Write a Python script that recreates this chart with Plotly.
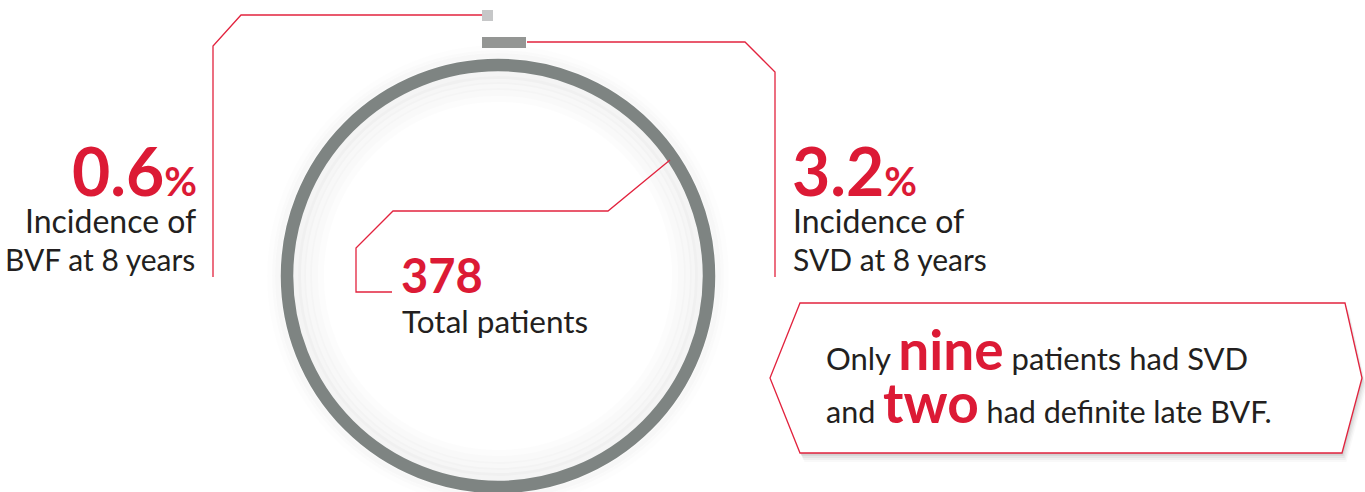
import plotly.graph_objects as go

# ---- data ----
stat_values = ["0.6", "3.2"]
stat_unit = "%"
stat_labels_left = ["Incidence of", "BVF at 8 years"]
stat_labels_right = ["Incidence of", "SVD at 8 years"]
total_value = "378"
total_label = "Total patients"
callout_line1 = ["Only", "nine", "patients had SVD"]
callout_line2 = ["and", "two", "had definite late BVF."]
marker_names = ["BVF", "SVD"]
marker_lengths = [11, 44]          # drawn marker lengths (px units of the canvas axes)

W, H = 1365, 492
RED_LINE = "#e2233e"
RED_TEXT = "#dc1a35"
DARK = "#231f20"
RING = "#7e8482"
FONT = "Lato"

fig = go.Figure()

# marker bars at the top (light square + darker bar)
fig.add_trace(go.Bar(
    x=marker_lengths, y=[15.5, 42], base=[482, 482], orientation="h",
    width=[10.5, 11], marker=dict(color=["#c6c7c8", "#949694"], line=dict(width=0)),
    hoverinfo="skip", showlegend=False))

shapes = []
# circle shading (soft glow inside / outside ring)
cx, cy, r = 498, 276, 211
for k, a in [(30, 0.010), (24, 0.012), (18, 0.015), (12, 0.02), (7, 0.025)]:
    rr = r - k
    shapes.append(dict(type="circle", xref="x", yref="y", x0=cx - rr, x1=cx + rr, y0=cy - rr, y1=cy + rr,
                       line=dict(color=f"rgba(0,0,0,{a})", width=14), layer="below"))
for k, a in [(16, 0.008), (11, 0.012), (8, 0.018)]:
    rr = r + k
    shapes.append(dict(type="circle", xref="x", yref="y", x0=cx - rr, x1=cx + rr, y0=cy - rr, y1=cy + rr,
                       line=dict(color=f"rgba(0,0,0,{a})", width=8), layer="below"))
shapes.append(dict(type="circle", xref="x", yref="y", x0=cx - r, x1=cx + r, y0=cy - r, y1=cy + r,
                   line=dict(color=RING, width=12.5)))

# connector lines
for p in ["M 482,15 L 241,15 L 213,46 L 213,277",
          "M 527,42 L 745,42 L 775,72 L 775,277",
          "M 670,160 L 608,211 L 393,211 L 356,248 L 356,292 L 392,292"]:
    shapes.append(dict(type="path", path=p, xref="x", yref="y", line=dict(color=RED_LINE, width=1.3)))

# callout box with soft shadow
hexa = [(770, 378), (800, 303), (1345, 303), (1362, 378), (1342, 453), (800, 453)]
def hpath(dx, dy):
    return "M " + " L ".join(f"{x+dx},{y+dy}" for x, y in hexa) + " Z"
for d, a in [(9, 0.025), (7, 0.035), (5, 0.045), (3, 0.055), (1.5, 0.06)]:
    shapes.append(dict(type="path", path=hpath(d * 0.5, d), xref="x", yref="y",
                       fillcolor=f"rgba(0,0,0,{a})", line=dict(width=0), layer="below"))
shapes.append(dict(type="path", path=hpath(0, 0), xref="x", yref="y", fillcolor="white",
                   line=dict(color=RED_LINE, width=1.3)))

ann = []
def txt(x, y, text, size, color=DARK, xanchor="left", bold=False):
    ann.append(dict(x=x, y=y, xref="x", yref="y", text=(f"<b>{text}</b>" if bold else text),
                    showarrow=False, xanchor=xanchor, yanchor="middle", borderpad=0,
                    font=dict(family=FONT, size=size, color=color)))

big = 66
pct = f"<span style='font-size:40px'>{stat_unit}</span>"
txt(198, 170, stat_values[0] + pct, big, RED_TEXT, "right", True)
txt(197, 220, stat_labels_left[0], 32, xanchor="right")
txt(196, 259, stat_labels_left[1], 30, xanchor="right")
txt(791, 170, stat_values[1] + pct, big, RED_TEXT, "left", True)
txt(792, 220, stat_labels_right[0], 32)
txt(792, 259, stat_labels_right[1], 30)
txt(400, 275, total_value, 47, RED_TEXT, bold=True)
txt(401, 321, total_label, 31.5)

def mixed(parts):
    return (f"{parts[0]} <span style='color:{RED_TEXT};font-size:55px'><b>{parts[1]}</b></span> {parts[2]}")
txt(825, 349, mixed(callout_line1), 31)
txt(825, 402, mixed(callout_line2), 30.5)

fig.update_layout(
    width=W, height=H, margin=dict(l=0, r=0, t=0, b=0),
    paper_bgcolor="white", plot_bgcolor="white",
    xaxis=dict(range=[0, W], visible=False, fixedrange=True),
    yaxis=dict(range=[H, 0], visible=False, fixedrange=True),
    shapes=shapes, annotations=ann, bargap=0,
)
fig.write_html("out.html", config={"displayModeBar": False},
               post_script="document.body.style.margin='0';document.body.style.overflow='hidden';")
